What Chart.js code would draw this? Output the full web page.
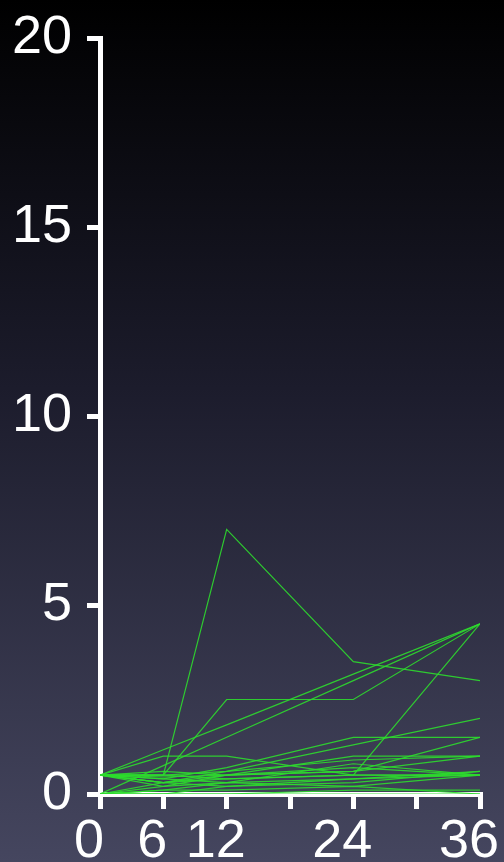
<!DOCTYPE html>
<html>
<head>
<meta charset="utf-8">
<script src="https://cdn.jsdelivr.net/npm/chart.js@4.4.1/dist/chart.umd.min.js"></script>
<style>
  html, body {
    margin: 0;
    padding: 0;
    width: 504px;
    height: 862px;
    overflow: hidden;
    background: linear-gradient(to bottom, #000000 0%, #1c1c2c 45%, #45465f 100%);
  }
  #wrap { position: relative; width: 504px; height: 862px; }
</style>
</head>
<body>
<div id="wrap"><canvas id="spaghetti"></canvas></div>
<script>
// follow-up months
const months = [0, 6, 12, 24, 36];
const xTicks = [0, 6, 12, 18, 24, 30, 36];
const xLabelled = [0, 6, 12, 24, 36];
const yTicks = [0, 5, 10, 15, 20];

// one array per subject, values at each follow-up month
const subject01 = [0.5, 0.5, 7.0, 3.5, 3.0];
const subject02 = [0.5, 0.5, 2.5, 2.5, 4.5];
const subject03 = [0.5, 1.17, 1.83, 3.17, 4.5];
const subject04 = [0, 0.75, 1.5, 3.0, 4.5];
const subject05 = [0.5, 0.3, 0.4, 0.5, 4.5];
const subject06 = [0.5, 1.0, 1.0, 0.5, 0.5];
const subject07 = [0.5, 0.5, 0.6, 1.3, 2.0];
const subject08 = [0.5, 0.4, 0.7, 1.5, 1.5];
const subject09 = [0.5, 0.6, 0.5, 1.0, 1.0];
const subject10 = [0.5, 0.3, 0.5, 0.6, 1.5];
const subject11 = [0.5, 0.4, 0.3, 0.8, 0.5];
const subject12 = [0, 0.2, 0.5, 0.6, 1.0];
const subject13 = [0, 0.1, 0.3, 0.4, 0.5];
const subject14 = [0.5, 0.5, 0.4, 0.5, 0.5];
const subject15 = [0, 0, 0.2, 0.3, 0.6];
const subject16 = [0.5, 0.2, 0.3, 0.2, 0.5];
const subject17 = [0, 0, 0, 0, 0];
const subject18 = [0, 0, 0, 0.1, 0.1];
const subject19 = [0.5, 0.3, 0.6, 0.9, 1.0];
const subject20 = [0, 0.3, 0.2, 0.4, 0.6];
const subject21 = [0.5, 0.45, 0.5, 0.7, 0.5];
const subject22 = [0, 0.1, 0.1, 0.2, 0];

const subjects = [
  subject01, subject02, subject03, subject04, subject05, subject06,
  subject07, subject08, subject09, subject10, subject11, subject12,
  subject13, subject14, subject15, subject16, subject17, subject18,
  subject19, subject20, subject21, subject22,
];

const white = "#ffffff";
const tickFont = { family: "'Liberation Sans', Arial, sans-serif", size: 54 };

function toPoints(values) {
  return values.map((v, i) => ({ x: months[i], y: v }));
}

// keep the plot box fixed instead of letting label overflow push it in
function noOverflow(scale) {
  scale.paddingLeft = 0;
  scale.paddingRight = 0;
  scale.paddingTop = 0;
  scale.paddingBottom = 0;
}

const datasets = subjects.map((values) => ({
  data: toPoints(values),
  borderColor: "rgba(45,220,45,0.9)",
  borderWidth: 1.2,
  pointRadius: 0,
  tension: 0,
  fill: false,
}));

const ctx = document.getElementById("spaghetti").getContext("2d");

new Chart(ctx, {
  type: "line",
  data: { datasets },
  options: {
    responsive: true,
    maintainAspectRatio: false,
    animation: false,
    layout: { padding: { top: 38, right: 24, bottom: 0, left: 0 } },
    plugins: { legend: { display: false }, tooltip: { enabled: false } },
    scales: {
      x: {
        type: "linear",
        min: 0,
        max: 36,
        afterBuildTicks: (scale) => {
          scale.ticks = xTicks.map((v) => ({ value: v }));
        },
        afterFit: (scale) => {
          scale.height = 68;
          noOverflow(scale);
        },
        border: { display: true, color: white, width: 5 },
        grid: {
          drawOnChartArea: false,
          drawTicks: true,
          tickLength: 15,
          tickWidth: 5,
          tickColor: white,
          color: white,
          lineWidth: 5,
        },
        ticks: {
          color: white,
          font: tickFont,
          padding: 1,
          labelOffset: -11,
          maxRotation: 0,
          autoSkip: false,
          callback: (v) => (xLabelled.includes(v) ? String(v) : ""),
        },
      },
      y: {
        min: 0,
        max: 20,
        afterBuildTicks: (scale) => {
          scale.ticks = yTicks.map((v) => ({ value: v }));
        },
        afterFit: (scale) => {
          scale.width = 100;
          noOverflow(scale);
        },
        border: { display: true, color: white, width: 5 },
        grid: {
          drawOnChartArea: false,
          drawTicks: true,
          tickLength: 13,
          tickWidth: 5,
          tickColor: white,
          color: white,
          lineWidth: 5,
        },
        ticks: {
          color: white,
          font: tickFont,
          padding: 15,
          callback: (v) => String(v),
        },
      },
    },
  },
});
</script>
</body>
</html>
